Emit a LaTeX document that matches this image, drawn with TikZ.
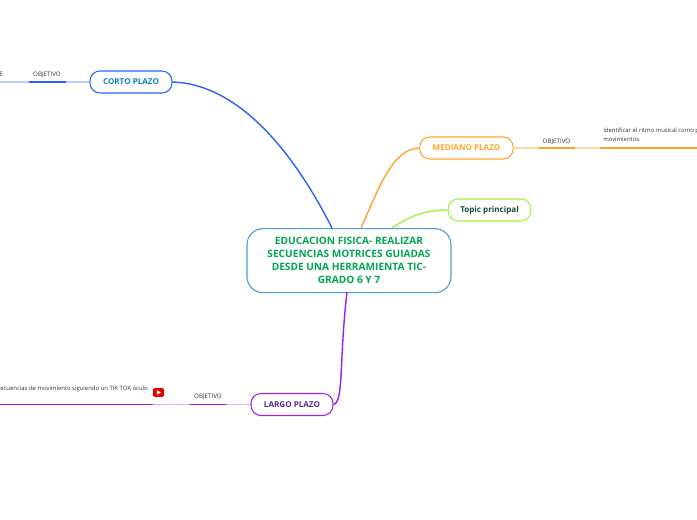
\documentclass[tikz,border=0pt]{standalone}
\usepackage{fontspec}
\setmainfont{Open Sans}
\definecolor{cblue}{HTML}{2962FF}
\definecolor{cbluepale}{HTML}{B9CBFF}
\definecolor{cbluetext}{HTML}{1580B8}
\definecolor{corange}{HTML}{FFA52E}
\definecolor{corangepale}{HTML}{FFD9A6}
\definecolor{cgreen}{HTML}{A0F53C}
\definecolor{ctopic}{HTML}{0F4C3A}
\definecolor{cpurple}{HTML}{9B20E8}
\definecolor{cpurplepale}{HTML}{DDB0F8}
\definecolor{cpurpletext}{HTML}{5B2A90}
\definecolor{croot}{HTML}{4A9BD6}
\definecolor{croottext}{HTML}{00A651}
\definecolor{cgraytext}{HTML}{333333}
\tikzset{
  x=0.75pt,y=-0.75pt,
  rootbox/.style={draw=croot,line width=0.8pt,rounded corners=12pt,minimum width=153pt,minimum height=48pt,inner sep=0pt,align=center,text=croottext,font=\bfseries\fontsize{7.6pt}{9.75pt}\selectfont},
  mainbox/.style={line width=0.8pt,rounded corners=7.5pt,minimum height=16.5pt,inner sep=0pt,font=\bfseries\fontsize{6.05pt}{8pt}\selectfont},
  small/.style={inner sep=0pt,text=cgraytext,font=\fontsize{4.65pt}{7.2pt}\selectfont},
  body/.style={small,font=\fontsize{4.45pt}{7.2pt}\selectfont},
  branch/.style={line width=1.05pt},
  pale/.style={line width=0.8pt},
  thick line/.style={line width=1.4pt}
}
\begin{document}
\begin{tikzpicture}
\useasboundingbox (0,0) rectangle (697,520);
\clip (0,0) rectangle (697,520);
\fill[white] (0,0) rectangle (697,520);
% nodes
\node[rootbox] (root) at (349,260.7) {EDUCACION FISICA- REALIZAR\\SECUENCIAS MOTRICES GUIADAS\\DESDE UNA HERRAMIENTA TIC-\\GRADO 6 Y 7};
\node[mainbox,draw=cblue,text=cbluetext,minimum width=61.5pt] (corto) at (131,82) {CORTO PLAZO};
\node[mainbox,draw=corange,text=corange,minimum width=70pt] (mediano) at (466.5,148) {MEDIANO PLAZO};
\node[mainbox,draw=cgreen,text=ctopic,minimum width=62pt] (topic) at (489.5,210) {Topic principal};
\node[mainbox,draw=cpurple,text=cpurpletext,minimum width=61.5pt] (largo) at (292,404.5) {LARGO PLAZO};
% labels
\node[small] (objc) at (47,75) {OBJETIVO};
\node[small] (objm) at (556.5,141.5) {OBJETIVO};
\node[small] (objl) at (208,397) {OBJETIVO};
\node[small,anchor=east] (txtc) at (3,74) {E};
\node[body,anchor=north west,align=left] (txtm) at (603,127.5) {Identificar el ritmo musical como p\\movimientos.};
\node[body,anchor=east] (txtl) at (148,389) {Secuencias de movimiento siguiendo un TIK TOK óculo};
% youtube icon
\node[fill=red!90!black,rounded corners=1.5pt,minimum width=8.5pt,minimum height=6.5pt,inner sep=0pt] (yt) at (158.5,392.5) {};
\fill[white] (156.8,390.3) -- (161,392.5) -- (156.8,394.7) -- cycle;
% coordinates
\coordinate (c1) at (66,82); \coordinate (c2) at (29,82); \coordinate (c3) at (0,82);
\coordinate (m1) at (539,148); \coordinate (m2) at (575,148); \coordinate (m3) at (600,148); \coordinate (m4) at (697,148);
\coordinate (l1) at (226,404.5); \coordinate (l2) at (190,404.5); \coordinate (l3) at (153,404.5); \coordinate (l4) at (0,404.5);
% main connectors
\draw[branch,cblue] (corto.east) .. controls (235,84) and (290,145) .. (332,228);
\draw[branch,corange] (mediano.west) .. controls (393,149) and (380,185) .. (361,228);
\draw[branch,cgreen] (topic.west) .. controls (425,210) and (410,216) .. (392,228);
\draw[branch,cpurple] (largo.east) .. controls (344,402) and (339,360) .. (347,292);
% sub connectors
\draw[pale,cbluepale] (corto.west) -- (c1);
\draw[thick line,cblue] (c1) -- (c2);
\draw[pale,cbluepale] (c2) -- (c3);
\draw[pale,corangepale] (mediano.east) -- (m1);
\draw[thick line,corange] (m1) -- (m2);
\draw[pale,corangepale] (m2) -- (m3);
\draw[thick line,corange] (m3) -- (m4);
\draw[pale,cpurplepale] (largo.west) -- (l1);
\draw[thick line,cpurple] (l1) -- (l2);
\draw[pale,cpurplepale] (l2) -- (l3);
\draw[thick line,cpurple] (l3) -- (l4);
\end{tikzpicture}
\end{document}
